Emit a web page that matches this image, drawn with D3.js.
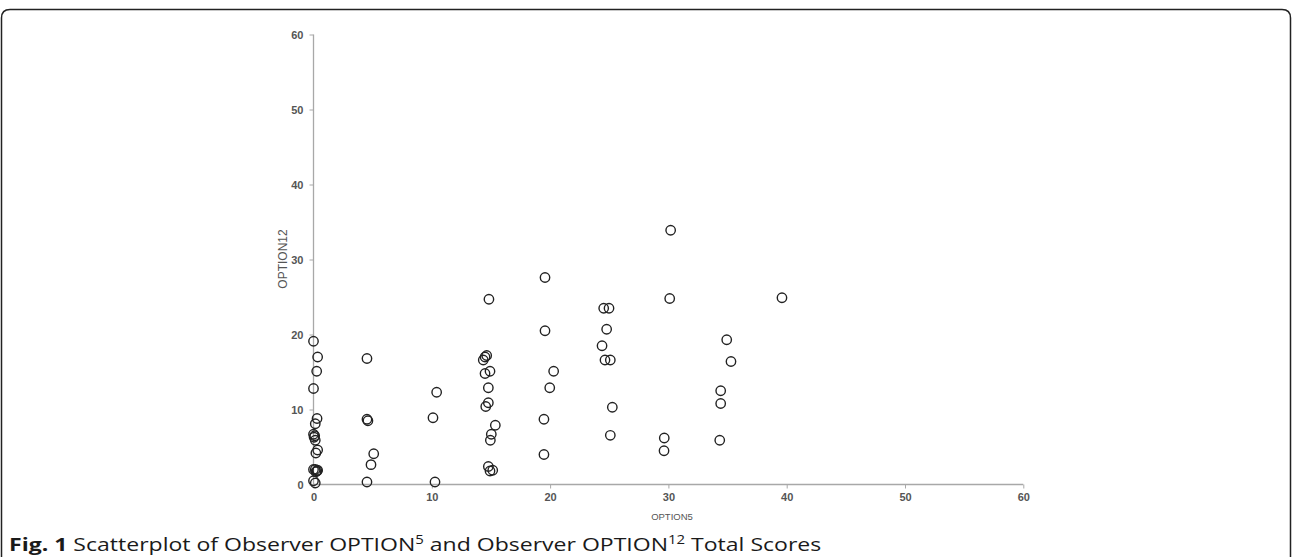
<!DOCTYPE html>
<html>
<head>
<meta charset="utf-8">
<script src="https://cdn.jsdelivr.net/npm/d3@7"></script>
<style>
  html, body { margin: 0; padding: 0; background: #fff; }
  svg { display: block; }
</style>
</head>
<body>
<svg id="chart" width="1292" height="557"></svg>
<script>
// ---- data ----
const option5 = [
  0, 0.35, 0.27, 0, 0.3, 0.15, 0, 0.1, 0.05, 0.15, 0.35, 0.2, 0, 0.15, 0.3, 0.35, 0.2, 0, 0.15,
  4.52, 4.52, 4.6, 5.09, 4.86, 4.52,
  10.41, 10.1, 10.27,
  14.83, 14.5, 14.64, 14.35, 14.5, 14.92, 14.78, 14.78, 14.56, 15.37, 15.03, 14.95, 14.78, 14.92, 15.15,
  19.57, 19.57, 20.3, 19.97, 19.48, 19.48,
  24.53, 24.98, 24.78, 24.39, 24.64, 25.09, 25.26, 25.09,
  30.19, 30.11, 29.65, 29.63,
  34.93, 35.29, 34.42, 34.42, 34.34,
  39.6
];
const option12 = [
  19.1, 17.0, 15.1, 12.8, 8.8, 8.1, 6.7, 6.5, 6.3, 5.9, 4.6, 4.2, 2.0, 2.0, 1.8, 1.9, 1.7, 0.5, 0.2,
  16.8, 8.7, 8.5, 4.1, 2.65, 0.33,
  12.3, 8.9, 0.33,
  24.7, 17.0, 17.2, 16.6, 14.8, 15.1, 12.9, 10.9, 10.4, 7.9, 6.7, 5.9, 2.4, 1.8, 1.9,
  27.6, 20.5, 15.1, 12.9, 8.7, 4.0,
  23.5, 23.5, 20.7, 18.5, 16.6, 16.6, 10.3, 6.56,
  33.9, 24.8, 6.2, 4.5,
  19.3, 16.4, 12.5, 10.8, 5.9,
  24.9
];
const xTicks = [0, 10, 20, 30, 40, 50, 60];
const yTicks = [0, 10, 20, 30, 40, 50, 60];
const xTitle = "OPTION5";
const yTitle = "OPTION12";

const svg = d3.select("#chart");

// frame (rounded panel border)
svg.append("path")
  .attr("d", "M1.5,570 V18 Q1.5,9.5 10,9.5 H1282 Q1290.5,9.5 1290.5,18 V570")
  .attr("fill", "none").attr("stroke", "#222").attr("stroke-width", 1.5);

const x = d3.scaleLinear().domain([0, 60]).range([313.5, 1023.3]);
const y = d3.scaleLinear().domain([0, 60]).range([484.5, 34.5]);

const axisColor = "#a8a8a8";
const labelColor = "#555";

// x axis
const gx = svg.append("g").attr("transform", `translate(0,${y(0)})`)
  .call(d3.axisBottom(x).tickValues(xTicks).tickSize(4).tickPadding(5).tickFormat(d3.format("d")));
// y axis
const gy = svg.append("g").attr("transform", `translate(${x(0)},0)`)
  .call(d3.axisLeft(y).tickValues(yTicks).tickSize(4).tickPadding(6).tickFormat(d3.format("d")));

[gx, gy].forEach(g => {
  g.select(".domain").attr("stroke", axisColor).attr("stroke-width", 1.3);
  g.selectAll(".tick line").attr("stroke", axisColor).attr("stroke-width", 1);
  g.selectAll(".tick text")
    .attr("fill", labelColor)
    .style("font-family", "'Liberation Sans', Arial, sans-serif")
    .style("font-size", "11px")
    .style("font-weight", "bold");
});
gx.select(".domain").attr("d", `M${x(0)},0H${x(60)}`);
gy.select(".domain").attr("d", `M0,${y(60)}V${y(0)}`);

// axis titles
svg.append("text")
  .attr("x", 672).attr("y", 520)
  .attr("text-anchor", "middle")
  .attr("fill", labelColor)
  .style("font-family", "'Liberation Sans', Arial, sans-serif")
  .style("font-size", "9.5px")
  .text(xTitle);

svg.append("text")
  .attr("transform", "translate(287,259) rotate(-90)")
  .attr("text-anchor", "middle")
  .attr("fill", labelColor)
  .style("font-family", "'Liberation Sans', Arial, sans-serif")
  .style("font-size", "12px")
  .text(yTitle);

// points
const pts = option5.map((v, i) => ({ x: v, y: option12[i] }));
svg.append("g").selectAll("circle").data(pts).join("circle")
  .attr("cx", d => x(d.x))
  .attr("cy", d => y(d.y))
  .attr("r", 4.7)
  .attr("fill", "none")
  .attr("stroke", "#222")
  .attr("stroke-width", 1.4);

// caption
const cap = svg.append("text")
  .attr("x", 0).attr("y", 0)
  .style("font-family", "'Open Sans', 'Noto Sans', sans-serif")
  .style("font-size", "18.5px")
  .attr("fill", "#1a1a1a");
cap.append("tspan").style("font-weight", "bold").text("Fig. 1");
cap.append("tspan").text(" Scatterplot of Observer OPTION");
cap.append("tspan").attr("dy", -7).style("font-size", "12px").text("5");
cap.append("tspan").attr("dy", 7).text(" and Observer OPTION");
cap.append("tspan").attr("dy", -7).style("font-size", "12px").text("12");
cap.append("tspan").attr("dy", 7).text(" Total Scores");
const bb = cap.node().getBBox();
const targetW = 813;
const sx = targetW / bb.width;
cap.attr("transform", `translate(${9 - bb.x * sx},551) scale(${sx},1)`);
</script>
</body>
</html>
